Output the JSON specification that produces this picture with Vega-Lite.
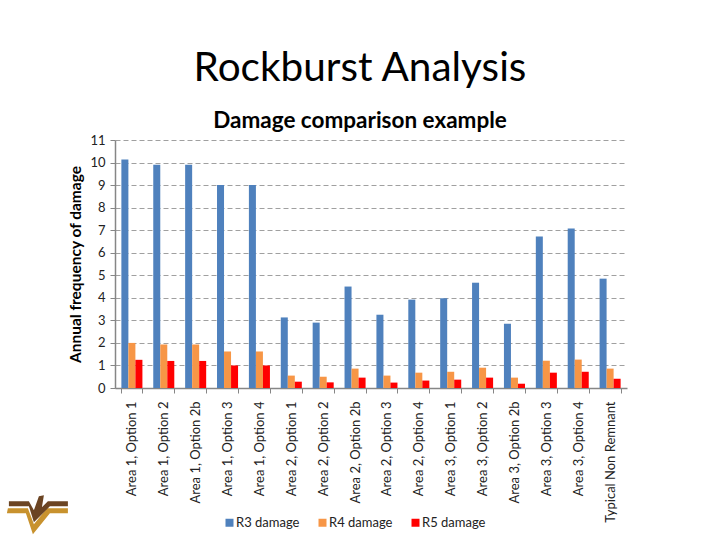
{
  "$schema": "https://vega.github.io/schema/vega-lite/v6.json",
  "width": 512,
  "height": 248,
  "autosize": "none",
  "padding": {"left": 115, "top": 140, "right": 93, "bottom": 152},
  "background": "white",
  "title": {
    "text": "Rockburst Analysis",
    "subtitle": "Damage comparison example",
    "anchor": "middle",
    "frame": "group",
    "dx": -11,
    "offset": 2,
    "font": "Lato",
    "fontSize": 40.5,
    "fontWeight": "normal",
    "color": "#000000",
    "subtitleFont": "Lato",
    "subtitleFontSize": 22.5,
    "subtitleFontWeight": "bold",
    "subtitleColor": "#000000",
    "subtitlePadding": 20
  },
  "config": {"view": {"stroke": null}},
  "resolve": {"axis": {"x": "independent", "y": "independent"}},
  "datasets": {
    "damage": [
      {"option": "Area 1, Option 1", "series": "R3 damage", "value": 10.13},
      {"option": "Area 1, Option 1", "series": "R4 damage", "value": 2.0},
      {"option": "Area 1, Option 1", "series": "R5 damage", "value": 1.25},
      {"option": "Area 1, Option 2", "series": "R3 damage", "value": 9.9},
      {"option": "Area 1, Option 2", "series": "R4 damage", "value": 1.93},
      {"option": "Area 1, Option 2", "series": "R5 damage", "value": 1.2},
      {"option": "Area 1, Option 2b", "series": "R3 damage", "value": 9.9},
      {"option": "Area 1, Option 2b", "series": "R4 damage", "value": 1.93},
      {"option": "Area 1, Option 2b", "series": "R5 damage", "value": 1.2},
      {"option": "Area 1, Option 3", "series": "R3 damage", "value": 9.0},
      {"option": "Area 1, Option 3", "series": "R4 damage", "value": 1.62},
      {"option": "Area 1, Option 3", "series": "R5 damage", "value": 1.0},
      {"option": "Area 1, Option 4", "series": "R3 damage", "value": 9.0},
      {"option": "Area 1, Option 4", "series": "R4 damage", "value": 1.62},
      {"option": "Area 1, Option 4", "series": "R5 damage", "value": 1.0},
      {"option": "Area 2, Option 1", "series": "R3 damage", "value": 3.13},
      {"option": "Area 2, Option 1", "series": "R4 damage", "value": 0.55},
      {"option": "Area 2, Option 1", "series": "R5 damage", "value": 0.28},
      {"option": "Area 2, Option 2", "series": "R3 damage", "value": 2.9},
      {"option": "Area 2, Option 2", "series": "R4 damage", "value": 0.5},
      {"option": "Area 2, Option 2", "series": "R5 damage", "value": 0.25},
      {"option": "Area 2, Option 2b", "series": "R3 damage", "value": 4.5},
      {"option": "Area 2, Option 2b", "series": "R4 damage", "value": 0.86},
      {"option": "Area 2, Option 2b", "series": "R5 damage", "value": 0.46},
      {"option": "Area 2, Option 3", "series": "R3 damage", "value": 3.25},
      {"option": "Area 2, Option 3", "series": "R4 damage", "value": 0.55},
      {"option": "Area 2, Option 3", "series": "R5 damage", "value": 0.24},
      {"option": "Area 2, Option 4", "series": "R3 damage", "value": 3.92},
      {"option": "Area 2, Option 4", "series": "R4 damage", "value": 0.68},
      {"option": "Area 2, Option 4", "series": "R5 damage", "value": 0.33},
      {"option": "Area 3, Option 1", "series": "R3 damage", "value": 3.98},
      {"option": "Area 3, Option 1", "series": "R4 damage", "value": 0.72},
      {"option": "Area 3, Option 1", "series": "R5 damage", "value": 0.37},
      {"option": "Area 3, Option 2", "series": "R3 damage", "value": 4.67},
      {"option": "Area 3, Option 2", "series": "R4 damage", "value": 0.9},
      {"option": "Area 3, Option 2", "series": "R5 damage", "value": 0.46},
      {"option": "Area 3, Option 2b", "series": "R3 damage", "value": 2.85},
      {"option": "Area 3, Option 2b", "series": "R4 damage", "value": 0.46},
      {"option": "Area 3, Option 2b", "series": "R5 damage", "value": 0.19},
      {"option": "Area 3, Option 3", "series": "R3 damage", "value": 6.72},
      {"option": "Area 3, Option 3", "series": "R4 damage", "value": 1.21},
      {"option": "Area 3, Option 3", "series": "R5 damage", "value": 0.68},
      {"option": "Area 3, Option 4", "series": "R3 damage", "value": 7.07},
      {"option": "Area 3, Option 4", "series": "R4 damage", "value": 1.26},
      {"option": "Area 3, Option 4", "series": "R5 damage", "value": 0.72},
      {"option": "Typical Non Remnant", "series": "R3 damage", "value": 4.85},
      {"option": "Typical Non Remnant", "series": "R4 damage", "value": 0.86},
      {"option": "Typical Non Remnant", "series": "R5 damage", "value": 0.41}
    ]
  },
  "layer": [
    {
      "data": {"name": "damage"},
      "mark": {"type": "bar"},
      "encoding": {
        "x": {
          "field": "option",
          "type": "nominal",
          "sort": null,
          "scale": {"paddingInner": 0.34, "paddingOuter": 0.2},
          "axis": {
            "title": null,
            "labelAngle": -90,
            "labelAlign": "right",
            "labelBaseline": "middle",
            "labelFont": "Lato",
            "labelFontSize": 13,
            "labelColor": "#222222",
            "labelPadding": 8,
            "labelOverlap": false,
            "labelLimit": 200,
            "tickBand": "extent",
            "tickColor": "#868686",
            "tickSize": 5,
            "domainColor": "#868686",
            "domainWidth": 1.5,
            "grid": false
          }
        },
        "xOffset": {"field": "series", "type": "nominal", "sort": ["R3 damage", "R4 damage", "R5 damage"], "scale": {"paddingInner": 0}},
        "y": {
          "field": "value",
          "type": "quantitative",
          "scale": {"domain": [0, 11], "nice": false},
          "axis": {
            "title": "Annual frequency of damage",
            "titleFont": "Lato",
            "titleFontSize": 15.5,
            "titleFontWeight": "bold",
            "titleColor": "#000000",
            "titlePadding": 6,
            "values": [0, 1, 2, 3, 4, 5, 6, 7, 8, 9, 10, 11],
            "labelOverlap": false,
            "labelFont": "Lato",
            "labelFontSize": 13,
            "labelColor": "#222222",
            "labelPadding": 5,
            "tickColor": "#868686",
            "tickSize": 5,
            "domainColor": "#868686",
            "domainWidth": 1.5,
            "grid": true,
            "gridColor": "#A0A0A0",
            "gridDash": [5, 3],
            "gridWidth": 1
          }
        },
        "color": {
          "field": "series",
          "type": "nominal",
          "sort": ["R3 damage", "R4 damage", "R5 damage"],
          "scale": {"domain": ["R3 damage", "R4 damage", "R5 damage"], "range": ["#4F81BD", "#F79646", "#FF0000"]},
          "legend": {
            "title": null,
            "orient": "none",
            "direction": "horizontal",
            "columns": 3,
            "legendX": 108,
            "legendY": 376,
            "symbolType": "square",
            "symbolSize": 64,
            "symbolStrokeWidth": 0,
            "labelFont": "Lato",
            "labelFontSize": 13,
            "labelColor": "#222222",
            "labelOffset": 0,
            "columnPadding": 16
          }
        }
      }
    },
    {
      "data": {"values": [{"part": "logo gold"}]},
      "mark": {
        "type": "point",
        "filled": true,
        "opacity": 1,
        "color": "#C8922E",
        "size": 4,
        "shape": "M-124 -6 L-104 -6 L-98 10 L-85 -6 L-64 -6 L-64 -1 L-82 -1 L-99 20 L-106 -1 L-125 -1 Z"
      },
      "encoding": {
        "x": {"datum": "Area 1, Option 1", "type": "nominal", "axis": null},
        "y": {"datum": -5.6, "type": "quantitative", "axis": null}
      }
    },
    {
      "data": {"values": [{"part": "logo brown"}]},
      "mark": {
        "type": "point",
        "filled": true,
        "opacity": 1,
        "color": "#6B4423",
        "size": 4,
        "shape": "M-123 -13 L-103 -13 L-98 -4 L-93 -18 L-88 -19 L-90 -7 L-84 -13 L-64 -13 L-64 -8 L-82 -8 L-98 8 L-103 -8 L-123 -8 Z"
      },
      "encoding": {
        "x": {"datum": "Area 1, Option 1", "type": "nominal", "axis": null},
        "y": {"datum": -5.6, "type": "quantitative", "axis": null}
      }
    }
  ]
}
